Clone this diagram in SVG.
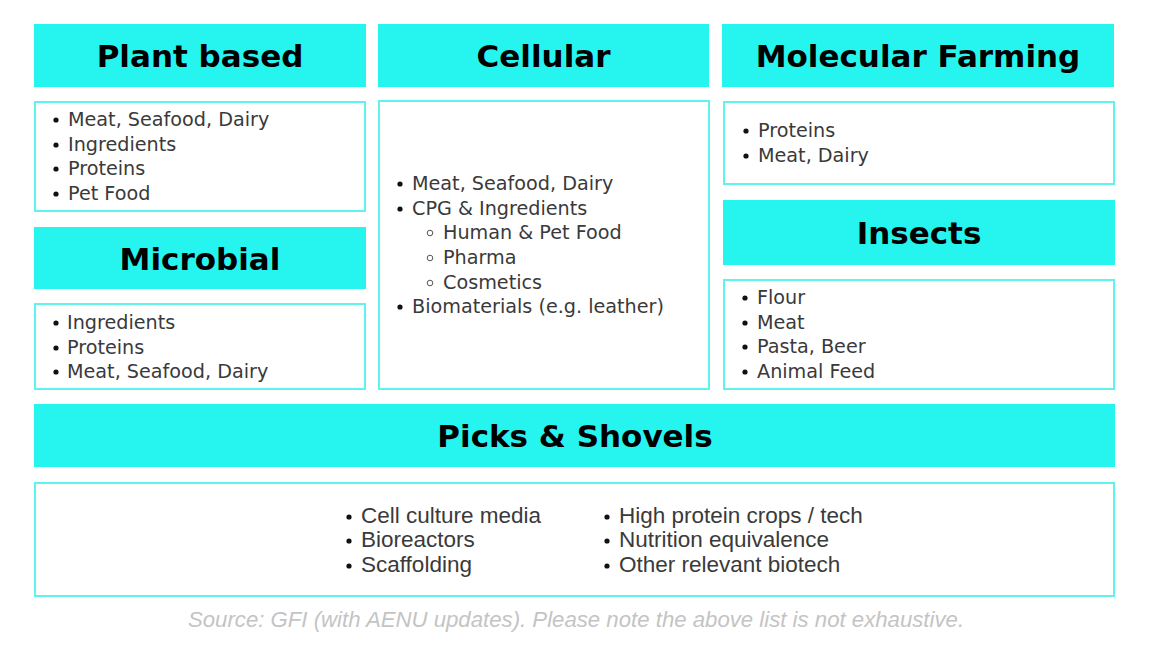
<svg xmlns="http://www.w3.org/2000/svg" width="1152" height="648" viewBox="0 0 1152 648">
<style>
.hdr{fill:#26f5ef;}
.box{fill:#fff;stroke:#5ff3f0;stroke-width:2;}
.ht{font-family:"DejaVu Sans",sans-serif;font-weight:bold;font-size:31px;fill:#000;text-anchor:middle;}
.lt{font-family:"DejaVu Sans",sans-serif;font-size:19.2px;fill:#3a3a3a;}
.bt{font-family:"Liberation Sans",Arial,sans-serif;font-size:22.5px;fill:#3a3a3a;}
.src{font-family:"Liberation Sans",Arial,sans-serif;font-style:italic;font-size:22.2px;fill:#c4c4c4;text-anchor:middle;}
.b{fill:#111;}
.hb{fill:none;stroke:#555;stroke-width:1;}
</style>
<rect width="1152" height="648" fill="#fff"/>

<g id="plant-based">
<rect class="hdr" x="34" y="24" width="332" height="63"/>
<text class="ht" x="200" y="67">Plant based</text>
<rect class="box" x="35" y="102" width="330" height="109"/>
<circle class="b" cx="56" cy="120" r="2.6"/><text class="lt" x="68" y="126">Meat, Seafood, Dairy</text>
<circle class="b" cx="56" cy="145" r="2.6"/><text class="lt" x="68" y="151">Ingredients</text>
<circle class="b" cx="56" cy="169" r="2.6"/><text class="lt" x="68" y="175">Proteins</text>
<circle class="b" cx="56" cy="194" r="2.6"/><text class="lt" x="68" y="200">Pet Food</text>
</g>

<g id="microbial">
<rect class="hdr" x="34" y="227" width="332" height="62"/>
<text class="ht" x="200" y="270">Microbial</text>
<rect class="box" x="35" y="304" width="330" height="85"/>
<circle class="b" cx="56" cy="323" r="2.6"/><text class="lt" x="67" y="329">Ingredients</text>
<circle class="b" cx="56" cy="348" r="2.6"/><text class="lt" x="67" y="354">Proteins</text>
<circle class="b" cx="56" cy="372" r="2.6"/><text class="lt" x="67" y="378">Meat, Seafood, Dairy</text>
</g>

<g id="cellular">
<rect class="hdr" x="378" y="24" width="331" height="63"/>
<text class="ht" x="543.5" y="67">Cellular</text>
<rect class="box" x="379" y="101" width="330" height="288"/>
<circle class="b" cx="400" cy="184" r="2.6"/><text class="lt" x="412" y="190">Meat, Seafood, Dairy</text>
<circle class="b" cx="400" cy="209" r="2.6"/><text class="lt" x="412" y="215">CPG &amp; Ingredients</text>
<circle class="hb" cx="430" cy="233" r="2.8"/><text class="lt" x="443" y="239">Human &amp; Pet Food</text>
<circle class="hb" cx="430" cy="258" r="2.8"/><text class="lt" x="443" y="264">Pharma</text>
<circle class="hb" cx="430" cy="283" r="2.8"/><text class="lt" x="443" y="289">Cosmetics</text>
<circle class="b" cx="400" cy="307" r="2.6"/><text class="lt" x="412" y="313">Biomaterials (e.g. leather)</text>
</g>

<g id="molecular-farming">
<rect class="hdr" x="722" y="24" width="392" height="63"/>
<text class="ht" x="918" y="67">Molecular Farming</text>
<rect class="box" x="724" y="102" width="390" height="82"/>
<circle class="b" cx="746" cy="131" r="2.6"/><text class="lt" x="758" y="137">Proteins</text>
<circle class="b" cx="746" cy="156" r="2.6"/><text class="lt" x="758" y="162">Meat, Dairy</text>
</g>

<g id="insects">
<rect class="hdr" x="723" y="200" width="392" height="65"/>
<text class="ht" x="919" y="244">Insects</text>
<rect class="box" x="724" y="280" width="390" height="109"/>
<circle class="b" cx="745" cy="298" r="2.6"/><text class="lt" x="757" y="304">Flour</text>
<circle class="b" cx="745" cy="323" r="2.6"/><text class="lt" x="757" y="329">Meat</text>
<circle class="b" cx="745" cy="347" r="2.6"/><text class="lt" x="757" y="353">Pasta, Beer</text>
<circle class="b" cx="745" cy="372" r="2.6"/><text class="lt" x="757" y="378">Animal Feed</text>
</g>

<g id="picks-shovels">
<rect class="hdr" x="34" y="404" width="1081" height="63"/>
<text class="ht" x="575" y="447">Picks &amp; Shovels</text>
<rect class="box" x="35" y="483" width="1079" height="113"/>
<circle class="b" cx="349" cy="517" r="2.6"/><text class="bt" x="361" y="523">Cell culture media</text>
<circle class="b" cx="349" cy="541" r="2.6"/><text class="bt" x="361" y="547">Bioreactors</text>
<circle class="b" cx="349" cy="566" r="2.6"/><text class="bt" x="361" y="572">Scaffolding</text>
<circle class="b" cx="607" cy="517" r="2.6"/><text class="bt" x="619" y="523">High protein crops / tech</text>
<circle class="b" cx="607" cy="541" r="2.6"/><text class="bt" x="619" y="547">Nutrition equivalence</text>
<circle class="b" cx="607" cy="566" r="2.6"/><text class="bt" x="619" y="572">Other relevant biotech</text>
</g>

<g id="connectors"></g>

<text class="src" x="576" y="627">Source: GFI (with AENU updates). Please note the above list is not exhaustive.</text>
</svg>
